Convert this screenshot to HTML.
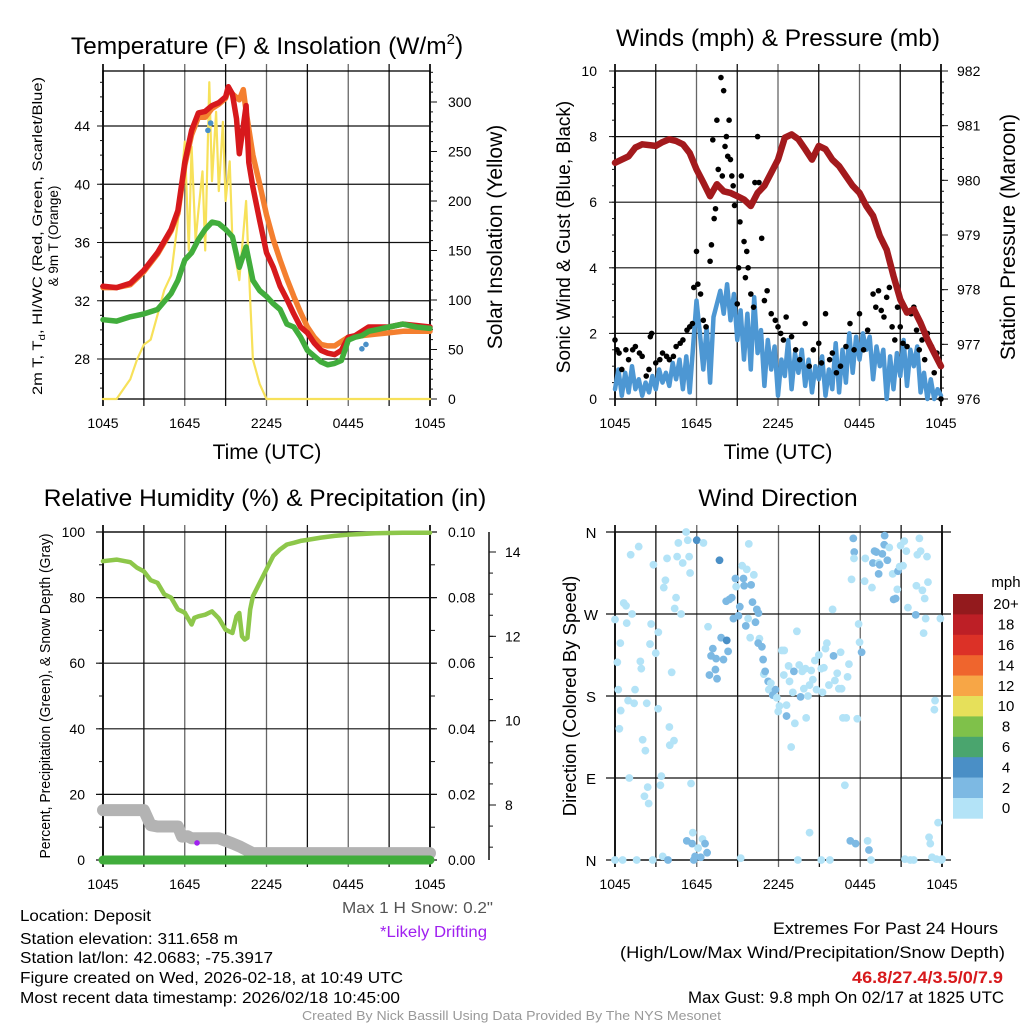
<!DOCTYPE html>
<html><head><meta charset="utf-8"><title>Mesonet Station Meteogram</title>
<style>
html,body{margin:0;padding:0;background:#fff;}
svg{display:block;font-family:"Liberation Sans",sans-serif;}
</style></head>
<body>
<svg id="fig" xmlns="http://www.w3.org/2000/svg" width="1024" height="1024" viewBox="0 0 1024 1024">
<rect x="0" y="0" width="1024" height="1024" fill="#fff"/>
<g id="layer"></g>
<!-- Titles -->
<text x="267" y="54" font-size="24.5" text-anchor="middle">Temperature (F) &amp; Insolation (W/m<tspan dy="-10" font-size="15">2</tspan><tspan dy="10">)</tspan></text>
<text x="778" y="46" font-size="24.5" text-anchor="middle">Winds (mph) &amp; Pressure (mb)</text>
<text x="265" y="506" font-size="24.5" text-anchor="middle">Relative Humidity (%) &amp; Precipitation (in)</text>
<text x="778" y="506" font-size="24.5" text-anchor="middle">Wind Direction</text>
<text x="267" y="459" font-size="21" text-anchor="middle">Time (UTC)</text>
<text x="778" y="459" font-size="21" text-anchor="middle">Time (UTC)</text>
<!-- axis titles -->
<text transform="translate(42,236) rotate(-90)" font-size="13.5" text-anchor="middle" textLength="318" lengthAdjust="spacingAndGlyphs">2m T, T<tspan dy="3" font-size="9.5">d</tspan><tspan dy="-3">, HI/WC (Red, Green, Scarlet/Blue)</tspan></text>
<text transform="translate(58,236) rotate(-90)" font-size="13.5" text-anchor="middle">&amp; 9m T (Orange)</text>
<text transform="translate(502,237) rotate(-90)" font-size="21" text-anchor="middle">Solar Insolation (Yellow)</text>
<text transform="translate(570,237) rotate(-90)" font-size="19" text-anchor="middle">Sonic Wind &amp; Gust (Blue, Black)</text>
<text transform="translate(1015,237) rotate(-90)" font-size="21" text-anchor="middle">Station Pressure (Maroon)</text>
<text transform="translate(50,696) rotate(-90)" font-size="14.5" text-anchor="middle" textLength="325" lengthAdjust="spacingAndGlyphs">Percent, Precipitation (Green), &amp; Snow Depth (Gray)</text>
<text transform="translate(576,696) rotate(-90)" font-size="18.5" text-anchor="middle">Direction (Colored By Speed)</text>
<!-- footer text -->
<g font-size="15.5">
<text x="20" y="921" textLength="131" lengthAdjust="spacingAndGlyphs">Location: Deposit</text>
<text x="20" y="944" textLength="218" lengthAdjust="spacingAndGlyphs">Station elevation: 311.658 m</text>
<text x="20" y="963" textLength="253" lengthAdjust="spacingAndGlyphs">Station lat/lon: 42.0683; -75.3917</text>
<text x="20" y="983" textLength="383" lengthAdjust="spacingAndGlyphs">Figure created on Wed, 2026-02-18, at 10:49 UTC</text>
<text x="20" y="1003" textLength="380" lengthAdjust="spacingAndGlyphs">Most recent data timestamp: 2026/02/18 10:45:00</text>
</g>
<text x="342" y="913" font-size="15.5" fill="#555" textLength="151" lengthAdjust="spacingAndGlyphs">Max 1 H Snow: 0.2"</text>
<text x="380" y="937" font-size="15.5" fill="#a020f0" textLength="107" lengthAdjust="spacingAndGlyphs">*Likely Drifting</text>
<text x="773" y="934" font-size="16.5" textLength="225" lengthAdjust="spacingAndGlyphs">Extremes For Past 24 Hours</text>
<text x="620" y="958" font-size="16.5" textLength="385" lengthAdjust="spacingAndGlyphs">(High/Low/Max Wind/Precipitation/Snow Depth)</text>
<text x="852" y="983" font-size="16.5" font-weight="bold" fill="#d7191c" textLength="151" lengthAdjust="spacingAndGlyphs">46.8/27.4/3.5/0/7.9</text>
<text x="688" y="1003" font-size="16.5" textLength="316" lengthAdjust="spacingAndGlyphs">Max Gust: 9.8 mph On 02/17 at 1825 UTC</text>
<text x="302" y="1020" font-size="13" fill="#999" textLength="419" lengthAdjust="spacingAndGlyphs">Created By Nick Bassill Using Data Provided By The NYS Mesonet</text>
</svg>
<script>
// ---------- Temperature panel data ----------
var redTimes=[0,1,2,3,4,5,5.5,6,6.5,7,7.5,8,8.5,9,9.2,9.5,9.8,10,10.3,10.5,10.7,11,11.5,12,12.5,13,13.5,14,14.5,15,15.5,16,16.5,17,17.5,18,18.5,19,19.5,20,21,22,23,24];
var redTemps=[33.0,32.9,33.2,34.1,35.3,36.9,38.2,41.5,43.7,44.9,45.0,45.4,45.6,46.0,46.7,46.2,44.5,42.1,44.0,45.4,41.5,39.8,37.5,35.3,34.3,33.0,32.1,31.1,30.2,29.8,29.1,28.6,28.4,28.3,28.6,29.5,29.6,29.9,30.2,30.2,30.2,30.4,30.3,30.2];
var orangeTimes=[0,1,2,3,4,5,5.5,6,6.5,7,7.5,8,8.5,9,9.2,9.5,10,10.3,10.5,11,11.5,12,12.5,13,13.5,14,14.5,15,15.5,16,16.5,17,17.5,18,19,20,21,22,23,24];
var orangeTemps=[32.9,32.9,33.1,34.0,35.2,36.8,38.0,41.3,43.4,44.6,44.6,45.2,45.5,45.9,46.5,46.2,45.8,46.5,45.0,42.0,40.0,37.9,36.2,34.8,33.5,32.3,31.2,30.2,29.5,29.0,28.9,28.9,29.2,29.5,29.6,29.7,29.8,29.9,29.9,29.9];
var dewTimes=[0,1,2,3,4,5,5.5,6,6.5,7,7.5,8,8.5,9,9.5,10,10.5,11,11.5,12,12.5,13,13.5,14,14.5,15,15.5,16,16.5,17,17.5,18,18.5,19,19.5,20,21,22,23,24];
var dewPoints=[30.7,30.6,30.9,31.1,31.4,32.5,33.4,34.8,35.3,36.2,36.9,37.4,37.3,36.9,36.4,34.3,35.7,33.4,32.7,32.3,31.8,31.4,30.4,30.2,29.5,28.6,28.2,27.8,27.6,27.7,27.9,29.3,29.5,29.6,29.9,30.0,30.2,30.4,30.2,30.1];
var insolTimes=[0,1,1.5,2,2.5,3,3.5,4,4.5,5,5.5,6,6.3,6.5,6.8,7,7.3,7.5,7.8,8,8.3,8.5,8.8,9,9.3,9.5,10,10.5,10.8,11,11.5,12,24];
var insolVals=[0,0,10,20,40,55,60,85,110,125,180,260,150,255,160,190,230,150,320,220,290,210,280,200,240,160,120,200,100,40,15,0,0];
var hiTimes=[7.7,7.9,19.0,19.3];
var hiVals=[43.7,44.2,28.7,29.0];
var tempTicks=[28,32,36,40,44];
var insolTicks=[0,50,100,150,200,250,300];
var timeLabels=["1045","1645","2245","0445","1045"];
// ---------- Wind panel data ----------
var presTimes=[0,0.5,1,1.5,2,3,3.5,4,4.5,5,5.5,6,6.5,7,7.5,8,8.5,9,9.5,10,10.5,11,11.5,12,12.5,13,13.5,14,14.5,15,15.5,16,16.5,17,17.5,18,18.5,19,19.5,20,20.5,21,21.5,22,22.5,23,23.5,24];
var presVals=[980.32,980.38,980.44,980.6,980.66,980.63,980.7,980.75,980.72,980.66,980.5,980.2,979.96,979.71,979.93,979.8,979.77,979.71,979.65,979.53,979.77,979.9,980.14,980.38,980.78,980.84,980.75,980.57,980.38,980.63,980.57,980.38,980.26,980.08,979.9,979.77,979.53,979.35,978.98,978.73,978.25,977.82,977.58,977.64,977.39,977.09,976.84,976.6];
var windSpeeds=[0.3,0.9,0.1,0.8,0.2,1.0,0.3,0.6, 0.1,0.5,0.2,0.7,0.3,0.9,0.5,0.8, 0.4,1.1,0.6,1.2,0.3,1.3,0.2,1.6, 3.0,2.0,0.9,2.2,0.5,2.5,2.9,3.3, 2.6,3.5,2.4,3.2,1.8,2.7,1.2,2.6, 0.9,3.1,1.4,2.1,0.4,1.8,0.9,1.6, 0.1,1.2,0.7,1.8,0.3,1.4,0.8,1.5, 0.4,1.2,0.2,1.0,0.6,1.3,0.1,0.9, 0.3,1.7,0.2,1.5,0.5,2.0,0.8,1.9, 1.2,2.0,1.5,1.9,0.6,1.6,1.0,1.5, 0.0,1.3,0.3,1.4,0.7,1.8,0.4,1.5, 1.0,1.6,0.2,0.8,0.0,0.6,0.0,0.3,0.1];
var gustTimes=[0,0.15,0.3,0.5,0.8,1,1.3,1.5,1.8,2,2.3,2.5,2.6,2.7,3,3.3,3.5,3.8,4,4.3,4.5,4.8,5,5.3,5.5,5.7,5.8,6,6.1,6.3,6.5,6.7,7,7.1,7.2,7.3,7.4,7.5,7.6,7.8,7.9,8,8.1,8.2,8.3,8.4,8.5,8.6,8.7,8.8,9,9.1,9.2,9.3,9.5,9.6,9.7,9.8,10,10.2,10.3,10.5,10.6,10.8,11,11.2,11.5,11.8,12,12.2,12.4,12.6,13,13.3,13.6,14,14.3,14.6,15,15.2,15.5,15.8,16,16.3,16.6,17,17.3,17.6,18,18.3,18.6,19,19.2,19.4,19.6,19.8,20,20.2,20.4,20.6,20.8,21,21.2,21.5,21.8,22,22.2,22.4,22.6,22.8,23,23.3,23.5,23.7,24];
var gustVals=[1.8,1.5,1.4,0.9,1.5,1.2,1.5,1.6,1.4,1.3,0.7,0.9,1.9,2.0,1.1,1.2,1.4,1.3,1.2,1.3,1.6,1.7,1.8,2.1,2.2,2.3,3.4,4.5,3.5,3.2,2.4,2.2,4.2,4.7,7.9,5.5,5.8,8.5,7.0,9.8,6.8,9.4,7.7,8.0,7.4,8.5,7.3,6.8,6.5,5.9,2.9,4.0,5.4,6.8,4.8,3.7,4.5,4.0,3.2,2.8,6.6,8.0,6.6,4.9,3.0,3.3,2.6,2.4,2.2,2.0,1.8,2.5,1.9,1.5,1.2,2.3,1.0,1.5,1.7,1.1,2.6,1.2,1.4,0.8,1.0,1.6,2.3,1.5,2.6,1.5,2.1,3.2,2.8,3.3,2.7,2.5,3.1,3.4,2.2,1.8,2.8,2.2,1.7,1.6,2.6,2.8,2.1,1.5,1.8,1.2,2.0,1.6,0.8,1.4,0.0];
var windTicks=[0,2,4,6,8,10];
var presTicks=[976,977,978,979,980,981,982];
// ---------- Humidity panel data ----------
var rhTimes=[0,1,2,2.5,3,3.5,4,4.5,5,5.5,6,6.5,6.7,7,7.5,8,8.5,9,9.5,9.8,10,10.2,10.4,10.6,10.8,11,11.5,12,12.5,13,13.5,14,14.5,15,16,17,18,19,20,22,24];
var rhVals=[91.1,91.6,90.8,89.1,88.0,85.3,84.5,81.0,80.0,76.4,75.4,71.8,73.8,74.3,74.8,75.8,73.7,70.2,69.2,74.3,75.3,68.2,67.2,67.7,76.4,80.4,84.5,88.6,92.7,94.7,96.2,96.7,97.3,97.6,98.3,98.8,99.2,99.4,99.6,99.8,99.8];
var snowTimes=[0,3,3.5,4,5.5,5.8,6.2,6.5,8.5,9.5,10,10.5,11,24];
var snowDepth=[7.88,7.88,7.52,7.49,7.49,7.25,7.26,7.21,7.21,7.09,7.02,6.94,6.86,6.86];
var precipTimes=[0,24];
var precipVals=[0,0];
var driftTimes=[6.9];
var driftDepth=[7.1];
var rhTicks=[0,20,40,60,80,100];
var precipTicks=["0.00","0.02","0.04","0.06","0.08","0.10"];
var snowTicks=[8,10,12,14];
// ---------- Wind direction data ----------
var dirTimes=[0.0,0.17,0.24,0.39,0.42,0.32,0.64,0.81,0.86,0.96,1.15,1.25,1.40,1.47,1.74,1.86,1.93,2.03,2.23,2.33,2.65,2.57,2.82,2.99,3.16,3.18,3.40,3.33,3.58,3.70,3.82,3.99,4.02,4.16,4.33,4.38,4.48,4.65,4.85,4.56,4.97,5.22,5.34,5.51,5.44,5.58,1.05,2.40,2.16,2.47,6.00,6.49,6.83,7.67,6.93,7.05,7.18,7.37,7.49,7.42,7.79,7.96,8.16,8.20,8.30,8.40,8.57,8.69,8.84,8.89,9.06,9.16,9.33,9.43,9.48,9.60,9.67,9.77,9.82,9.92,9.99,10.09,10.19,10.31,10.41,10.53,10.60,10.51,10.78,10.87,10.92,11.02,11.24,11.29,11.44,11.58,11.78,11.88,11.98,12.07,12.25,12.42,12.39,12.59,12.59,12.74,12.81,12.93,13.05,13.13,13.20,13.35,13.52,13.62,13.74,13.86,13.98,14.03,14.16,14.28,14.40,14.52,14.67,14.79,14.96,15.14,15.23,15.33,15.45,15.55,15.70,15.97,16.04,16.14,16.31,16.43,16.56,16.63,16.73,16.87,16.97,17.07,17.17,17.36,17.49,17.56,17.54,17.78,17.88,17.95,18.10,18.32,18.37,18.86,18.93,19.05,19.18,19.35,19.35,19.42,19.62,19.76,19.79,19.99,20.13,20.38,20.45,20.60,20.77,20.89,20.72,21.14,20.96,21.23,21.38,21.50,22.07,22.19,22.12,22.34,22.43,22.56,22.65,22.73,22.80,22.90,22.97,23.49,23.44,23.88,23.71,23.05,23.14,23.27,23.59,23.95,24.0,0.0,0.56,1.59,2.77,3.50,3.89,5.71,5.27,5.66,6.42,6.61,6.10,6.76,5.88,6.29,5.78,9.23,13.42,14.28,15.14,15.77,17.27,17.66,18.54,18.64,18.79,21.28,21.67,21.92];
var dirDegrees=[264,217,187,238,164,144,282,279,260,175,335,270,172,187,344,218,210,132,120,172,259,237,324,227,166,250,92,82,299,307,331,146,126,206,131,276,288,348,270,333,326,360,351,315,333,84,90,80,70,62,351,348,256,329,203,224,232,209,199,221,244,220,284,241,229,286,288,265,309,300,268,278,323,309,301,257,319,265,347,244,302,283,313,261,275,271,243,238,234,220,204,207,196,187,194,181,187,178,163,169,230,230,203,170,158,213,196,124,184,207,150,251,214,179,207,188,210,156,180,192,208,198,219,187,225,210,184,211,232,238,192,275,224,197,205,188,228,188,156,82,156,201,215,308,353,338,331,155,259,239,228,306,331,299,326,339,338,326,314,324,336,346,356,329,343,314,286,287,317,322,297,323,345,350,339,277,269,335,301,353,339,296,249,287,265,333,305,175,165,265,41,25,18,3,1,0,1,0,0,0,0,4,0,30,21,18,23,18,13,8,4,3,0,2,0,30,0,0,21,18,21,11,0,1,0,0];
var dirSpeeds=[1,1,1,1,1,1,1,1,1,1,1,1,1,1,1,1,1,1,1,1,1,1,1,1,1,1,1,1,1,1,1,1,1,1,1,1,1,1,1,1,1,1,1,1,1,1,1,1,1,1,4.5,1,1,4.5,2.5,2.5,2.5,2.5,2.5,2.5,2.5,2.5,2.5,4.5,2.5,2.5,2.5,2.5,2.5,1,2.5,2.5,1,2.5,2.5,2.5,1,1,1,1,2.5,2.5,1,2.5,2.5,2.5,1,2.5,2.5,2.5,1,2.5,2.5,1,1,2.5,2.5,1,1,1,1,1,1,1,2.5,1,1,1,1,2.5,1,1,1,2.5,1,1,1,1,1,1,1,1,1,1,1,1,1,1,1,1,1,1,2.5,1,1,1,1,1,1,1,1,1,1,1,2.5,2.5,1,1,1,1,2.5,1,1,1,2.5,2.5,2.5,1,2.5,2.5,2.5,2.5,2.5,2.5,1,1,2.5,2.5,2.5,1,1,1,1,1,1,1,2.5,1,1,1,1,1,1,1,1,1,1,1,1,1,1,1,1,1,1,1,1,1,1,1,1,1,2.5,1,2.5,2.5,1,2.5,1,2.5,2.5,2.5,2.5,1,1,1,1,1,2.5,2.5,1,2.5,1,1,1,1,1,1,1,1,1,1];
var dirTicks=["N","E","S","W","N"];
var cbLabels=["20+","18","16","14","12","10","8","6","4","2","0"];
var cbColors=["#931a1d","#bd1f26","#dc3127","#ef652d","#f7a646","#e6e05a","#7fc14a","#4aa56e","#4a8fc6","#7db9e3","#b3e3f7"];

var NS="http://www.w3.org/2000/svg";
var layer=document.getElementById('layer');
function mk(tag,attrs,parent){var e=document.createElementNS(NS,tag);for(var k in attrs)e.setAttribute(k,attrs[k]);(parent||layer).appendChild(e);return e;}
function lin(d0,d1,r0,r1){return function(v){return r0+(v-d0)/(d1-d0)*(r1-r0);};}

var P1={x0:103,x1:430,y0:71,y1:399};
var P2={x0:615,x1:941,y0:71,y1:399};
var P3={x0:103,x1:430,y0:532,y1:860};
var P4={x0:615,x1:942,y0:532,y1:860};

function frame(P,name){
  var g=mk('g',{});
  
  
  var sx=lin(0,24,P.x0,P.x1);
  for(var i=0;i<=8;i++){
    var x=sx(i*3);
    var l=mk('line',{x1:x,x2:x,y1:P.y0-7,y2:P.y1+7,stroke:(i%2==0&&i>0&&i<8)?'#666':'#111','stroke-width':(i==0||i==8)?1.8:1.3},g);
    
    
  }
  for(var j=0;j<timeLabels.length;j++){
    var t=mk('text',{x:sx(j*6),y:P.y1+29,'font-size':14,'text-anchor':'middle'},g);
    t.textContent=timeLabels[j];
    
    
  }
  var r=mk('rect',{x:P.x0,y:P.y0,width:P.x1-P.x0,height:P.y1-P.y0,fill:'none',stroke:'#000','stroke-width':1.3},g);
  
  
  return sx;
}
function hgrid(P,yv,ext,g){
  var l=mk('line',{x1:P.x0-ext,x2:P.x1+ext,y1:yv,y2:yv,stroke:'#111','stroke-width':1.2},g);
  
  
}
function label(x,y,txt,anchor,size,name){
  var t=mk('text',{x:x,y:y,'font-size':size||14,'text-anchor':anchor});
  t.textContent=txt;
  
  
  return t;
}
function tick(x1,y1,x2,y2){
  var l=mk('line',{x1:x1,y1:y1,x2:x2,y2:y2,stroke:'#111','stroke-width':1});
  
  
}
function poly(ts,vs,sx,sy,color,w,name){
  var pts=[];for(var i=0;i<ts.length;i++)pts.push(sx(ts[i]).toFixed(1)+','+sy(vs[i]).toFixed(1));
  var p=mk('polyline',{points:pts.join(' '),fill:'none',stroke:color,'stroke-width':w,'stroke-linejoin':'round','stroke-linecap':'round'});
  
  
  return p;
}

// ===== Panel 1 =====
var sx1=frame(P1,'temperature');
var sT=lin(28,44,359,126);
var sI=lin(0,300,399,102);
tempTicks.forEach(function(v){hgrid(P1,sT(v),0);label(90,sT(v)+5,String(v),'end',14,'temperature-tick-label');tick(P1.x0-6,sT(v),P1.x0,sT(v));});
for(var v=26;v<=47;v++){tick(P1.x0-3,sT(v),P1.x0,sT(v));}
insolTicks.forEach(function(v){label(448,sI(v)+5,String(v),'start',14,'insolation-tick-label');tick(P1.x1,sI(v),P1.x1+7,sI(v));});
for(var v2=0;v2<=330;v2+=10){tick(P1.x1,sI(v2),P1.x1+3,sI(v2));}
poly(insolTimes,insolVals,sx1,sI,'#f7e15a',2.2,'insolation-line');
poly(orangeTimes,orangeTemps,sx1,sT,'#f47f2f',5.5,'nine-meter-temp-line');
poly(redTimes,redTemps,sx1,sT,'#d7191c',5.5,'two-meter-temp-line');
poly(dewTimes,dewPoints,sx1,sT,'#41ad3c',5.5,'dewpoint-line');
for(var h=0;h<hiTimes.length;h++){
  var c=mk('circle',{cx:sx1(hiTimes[h]),cy:sT(hiVals[h]),r:2.8,fill:'#4a90c8'});
  
  
}

// ===== Panel 2 =====
var sx2=frame(P2,'wind');
var sW=lin(0,10,399,71);
var sP=lin(976,982,399,71);
windTicks.forEach(function(v){hgrid(P2,sW(v),0);label(597,sW(v)+5,String(v),'end',14,'wind-tick-label');tick(P2.x0-6,sW(v),P2.x0,sW(v));});
for(var w=0;w<=10;w+=0.5){tick(P2.x0-3,sW(w),P2.x0,sW(w));}
presTicks.forEach(function(v){label(957,sP(v)+5,String(v),'start',14,'pressure-tick-label');tick(P2.x1,sP(v),P2.x1+7,sP(v));});
for(var pp=976;pp<=982;pp+=0.2){tick(P2.x1,sP(pp),P2.x1+3,sP(pp));}
var windTimes=windSpeeds.map(function(_,i){return i*0.25;});
poly(windTimes,windSpeeds,sx2,sW,'#4d97d3',4.5,'sonic-wind-line');
for(var gi=0;gi<gustTimes.length;gi++){
  var gc=mk('circle',{cx:sx2(gustTimes[gi]),cy:sW(gustVals[gi]),r:2.8,fill:'#000'});
  
  
}
poly(presTimes,presVals,sx2,sP,'#a31a1d',6.5,'pressure-line');

// ===== Panel 3 =====
var sx3=frame(P3,'humidity');
var sR=lin(0,100,860,532);
var sS=lin(8,14,805,552);
rhTicks.forEach(function(v,i){hgrid(P3,sR(v),7);label(85,sR(v)+5,String(v),'end',14,'humidity-tick-label');label(448,sR(v)+5,precipTicks[i],'start',14,'precip-tick-label');});
for(var q=0;q<=100;q+=10){tick(P3.x0-4,sR(q),P3.x0,sR(q));tick(P3.x1,sR(q),P3.x1+5,sR(q));}
var sAx=mk('line',{x1:489,x2:489,y1:532,y2:860,stroke:'#111','stroke-width':1.5});


snowTicks.forEach(function(v){tick(489,sS(v),496,sS(v));label(505,sS(v)+5,String(v),'start',14,'snow-tick-label');});
for(var sd=7;sd<=14.4;sd+=0.5){tick(489,sS(sd),493,sS(sd));}
poly(snowTimes,snowDepth,sx3,sS,'#b3b3b3',12,'snow-depth-line');
poly(precipTimes,precipVals,sx3,function(v){return sR(v*1000);},'#41ad3c',9,'precipitation-line');
poly(rhTimes,rhVals,sx3,sR,'#8dc74a',4.5,'humidity-line');
for(var di=0;di<driftTimes.length;di++){
  var dc=mk('circle',{cx:sx3(driftTimes[di]),cy:sS(driftDepth[di]),r:2.8,fill:'#a020f0'});
  
  
}

// ===== Panel 4 =====
var sx4=frame(P4,'direction');
var sD=lin(0,360,860,532);
dirTicks.forEach(function(v,i){hgrid(P4,sD(i*90),9);label(591,sD(i*90)+6,v,'middle',15,'direction-tick-label');});
function spColor(s){var idx=Math.min(10,Math.floor(s/2));return cbColors[10-idx];}
for(var k=0;k<dirTimes.length;k++){
  var pc=mk('circle',{cx:sx4(dirTimes[k]),cy:sD(dirDegrees[k]),r:3.9,fill:spColor(dirSpeeds[k])});
  
  
}
var cbH=20.4;
for(var b=0;b<cbColors.length;b++){
  var cr=mk('rect',{x:953,y:594+b*cbH,width:30,height:cbH+0.3,fill:cbColors[b]});
  
  
  label(1006,594+b*cbH+cbH/2+5,cbLabels[b],'middle',15,'colorbar-label');
}
label(1006,587,'mph','middle',15,'colorbar-title');
</script>
</body></html>
